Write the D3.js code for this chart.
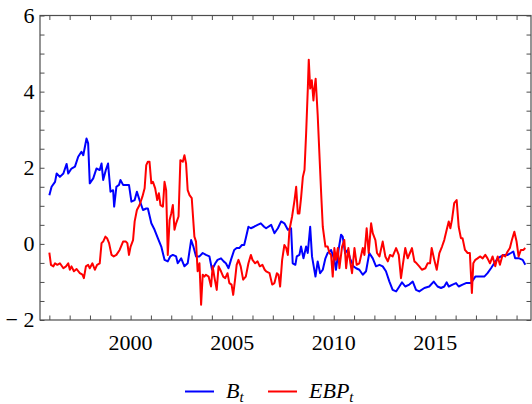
<!DOCTYPE html>
<html>
<head>
<meta charset="utf-8">
<script src="https://cdn.jsdelivr.net/npm/d3@7"></script>
<style>
  html, body { margin: 0; padding: 0; background: #fff; }
  svg { display: block; }
</style>
</head>
<body>
<svg id="chart" width="532" height="404"></svg>
<script>
// ---- Data ----
const bYears = [1996.00,1996.11,1996.28,1996.36,1996.52,1996.69,1996.85,1996.93,1997.09,1997.26,1997.42,1997.58,1997.67,1997.83,1997.91,1997.99,1998.16,1998.32,1998.48,1998.57,1998.65,1998.78,1998.89,1999.01,1999.14,1999.19,1999.30,1999.43,1999.50,1999.63,1999.79,1999.92,2000.04,2000.20,2000.31,2000.44,2000.61,2000.77,2000.85,2001.02,2001.18,2001.34,2001.51,2001.67,2001.83,2001.95,2002.08,2002.24,2002.32,2002.49,2002.65,2002.81,2002.98,2003.09,2003.22,2003.39,2003.55,2003.71,2003.88,2004.01,2004.17,2004.28,2004.45,2004.58,2004.69,2004.82,2004.94,2005.10,2005.22,2005.35,2005.48,2005.59,2005.67,2005.80,2005.92,2006.08,2006.25,2006.41,2006.57,2006.67,2006.92,2007.08,2007.25,2007.41,2007.57,2007.74,2007.90,2007.98,2008.11,2008.18,2008.31,2008.39,2008.51,2008.64,2008.72,2008.84,2008.93,2009.10,2009.21,2009.33,2009.46,2009.59,2009.70,2009.87,2010.03,2010.11,2010.25,2010.36,2010.44,2010.56,2010.69,2010.80,2010.97,2011.10,2011.26,2011.43,2011.59,2011.75,2011.92,2012.08,2012.25,2012.41,2012.57,2012.74,2012.90,2013.07,2013.23,2013.36,2013.52,2013.72,2013.89,2014.05,2014.21,2014.46,2014.70,2014.92,2015.11,2015.28,2015.44,2015.56,2015.66,2015.85,2016.02,2016.15,2016.34,2016.51,2016.75,2016.97,2017.16,2017.41,2017.57,2017.74,2017.90,2018.07,2018.23,2018.39,2018.56,2018.72,2018.84,2018.93,2019.13,2019.30,2019.43];
const bValues = [1.28,1.50,1.63,1.85,1.76,1.85,2.10,1.85,1.98,2.03,2.29,2.42,2.33,2.77,2.64,1.59,1.72,1.98,1.94,2.11,1.68,1.94,2.11,1.37,1.41,0.98,1.50,1.55,1.68,1.55,1.55,1.55,1.11,1.15,1.37,1.15,0.89,0.93,0.93,0.54,0.37,0.15,-0.07,-0.42,-0.46,-0.33,-0.29,-0.33,-0.51,-0.38,-0.59,-0.51,0.10,-0.07,-0.33,-0.33,-0.24,-0.29,-0.33,-0.68,-0.51,-0.42,-0.38,-0.46,-0.51,-0.64,-0.42,-0.16,-0.11,-0.11,-0.03,-0.03,0.15,0.45,0.41,0.45,0.50,0.54,0.45,0.41,0.50,0.28,0.41,0.59,0.54,0.37,0.41,-0.51,-0.55,-0.33,-0.29,-0.07,-0.38,-0.07,-0.24,0.45,-0.33,-0.86,-0.46,-0.77,-0.68,-0.38,-0.24,-0.16,-0.42,-0.68,-0.11,0.24,0.19,-0.24,-0.16,-0.38,-0.59,-0.64,-0.68,-0.81,-0.72,-0.24,-0.38,-0.59,-0.55,-0.59,-0.72,-0.99,-1.21,-1.25,-1.12,-1.01,-1.12,-1.07,-0.99,-1.21,-1.25,-1.16,-1.12,-0.99,-1.12,-1.16,-1.12,-1.01,-1.12,-1.07,-1.03,-1.12,-1.07,-1.03,-1.03,-0.86,-0.86,-0.86,-0.77,-0.64,-0.51,-0.38,-0.33,-0.29,-0.29,-0.24,-0.20,-0.38,-0.38,-0.42,-0.55];

const ebpYears = [1996.00,1996.08,1996.20,1996.28,1996.39,1996.52,1996.69,1996.82,1996.93,1997.01,1997.09,1997.21,1997.34,1997.50,1997.63,1997.70,1997.80,1997.91,1997.99,1998.12,1998.24,1998.35,1998.48,1998.57,1998.65,1998.76,1998.84,1998.94,1999.06,1999.17,1999.30,1999.46,1999.63,1999.76,1999.84,1999.92,2000.00,2000.12,2000.20,2000.31,2000.44,2000.58,2000.69,2000.77,2000.85,2000.93,2001.02,2001.10,2001.21,2001.31,2001.39,2001.47,2001.59,2001.67,2001.75,2001.83,2001.92,2002.00,2002.08,2002.16,2002.24,2002.36,2002.45,2002.57,2002.65,2002.73,2002.81,2002.90,2003.01,2003.14,2003.22,2003.30,2003.39,2003.47,2003.55,2003.63,2003.71,2003.84,2003.96,2004.04,2004.12,2004.24,2004.33,2004.45,2004.56,2004.66,2004.77,2004.86,2004.97,2005.05,2005.15,2005.22,2005.31,2005.42,2005.54,2005.67,2005.80,2005.92,2006.00,2006.13,2006.25,2006.36,2006.49,2006.60,2006.67,2006.84,2006.97,2007.08,2007.20,2007.28,2007.36,2007.46,2007.57,2007.66,2007.74,2007.82,2007.95,2008.07,2008.15,2008.23,2008.31,2008.39,2008.48,2008.56,2008.64,2008.72,2008.77,2008.84,2008.92,2009.00,2009.05,2009.11,2009.21,2009.30,2009.38,2009.46,2009.59,2009.70,2009.79,2009.87,2009.95,2010.03,2010.11,2010.20,2010.28,2010.41,2010.52,2010.61,2010.72,2010.82,2010.90,2011.02,2011.13,2011.26,2011.43,2011.51,2011.62,2011.72,2011.84,2011.92,2012.05,2012.13,2012.25,2012.41,2012.54,2012.66,2012.77,2012.90,2013.07,2013.20,2013.31,2013.39,2013.52,2013.64,2013.75,2013.85,2013.97,2014.08,2014.21,2014.34,2014.51,2014.62,2014.74,2014.82,2014.95,2015.07,2015.20,2015.33,2015.44,2015.56,2015.66,2015.74,2015.82,2015.93,2016.05,2016.15,2016.26,2016.34,2016.46,2016.59,2016.70,2016.80,2016.87,2016.97,2017.08,2017.20,2017.33,2017.46,2017.57,2017.69,2017.82,2017.95,2018.07,2018.18,2018.31,2018.44,2018.56,2018.67,2018.77,2018.89,2019.00,2019.10,2019.21,2019.33,2019.43];
const ebpValues = [-0.23,-0.55,-0.59,-0.51,-0.55,-0.51,-0.64,-0.59,-0.51,-0.68,-0.59,-0.72,-0.66,-0.77,-0.81,-0.90,-0.59,-0.55,-0.64,-0.51,-0.68,-0.55,-0.51,0.02,0.06,0.19,0.15,0.02,-0.29,-0.33,-0.29,-0.16,0.06,0.06,0.02,-0.29,-0.07,0.10,0.59,0.89,1.02,1.24,1.46,2.07,2.16,2.16,1.59,1.63,1.46,1.15,1.33,1.02,0.98,1.63,1.41,-0.29,0.63,0.80,1.02,0.37,0.54,0.72,2.20,2.16,2.33,2.11,1.41,1.28,1.20,0.19,0.06,-0.72,-0.51,-1.60,-0.81,-0.86,-0.81,-0.86,-1.12,-0.59,-0.86,-1.21,-0.59,-0.72,-0.86,-0.90,-0.77,-1.03,-1.07,-1.34,-0.90,-0.55,-0.42,-0.59,-0.94,-0.86,-0.51,-0.29,-0.42,-0.51,-0.46,-0.59,-0.55,-0.68,-0.72,-0.77,-1.07,-1.03,-0.77,-0.81,-1.12,-0.42,-0.03,-0.11,-0.29,0.37,0.72,1.15,1.50,0.80,0.80,1.20,1.76,1.94,2.90,4.03,4.84,4.08,4.30,3.77,4.08,4.34,3.38,2.29,1.33,0.45,-0.07,-0.07,-0.24,-0.29,-0.86,-0.11,-0.42,-0.11,-0.64,-0.07,0.10,-0.64,-0.11,-0.51,-0.77,-0.11,-0.55,-0.51,-0.11,-0.29,0.41,-0.24,0.54,0.28,0.10,-0.24,-0.33,0.06,-0.33,-0.46,-0.29,-0.33,-0.11,-0.29,-0.90,-0.59,-0.11,-0.38,-0.24,-0.11,-0.46,-0.51,-0.59,-0.68,-0.64,-0.51,-0.51,-0.11,-0.42,-0.68,-0.24,-0.07,0.10,0.37,0.59,0.41,0.63,1.07,1.15,0.45,0.15,0.15,-0.16,-0.24,-0.24,-1.29,-0.51,-0.42,-0.38,-0.33,-0.38,-0.29,-0.38,-0.51,-0.33,-0.59,-0.33,-0.55,-0.29,-0.33,-0.20,-0.11,0.10,0.32,0.06,-0.33,-0.16,-0.16,-0.11];

const xTickLabels = [2000, 2005, 2010, 2015];
const yTickLabels = [-2, 0, 2, 4, 6];
const seriesNames = ["B", "EBP"];
const seriesColors = ["#0000ff", "#ff0000"];

// ---- Layout ----
const svg = d3.select("#chart");
const mLeft = 40, mRight = 531, mTop = 15.5, mBottom = 320;
const x = d3.scaleLinear().domain([1995.54, 2019.71]).range([mLeft, mRight]);
const y = d3.scaleLinear().domain([-2, 6]).range([mBottom, mTop]);

const frameColor = "#4d4d4d";
const font = "'Liberation Serif', 'Times New Roman', serif";
const tickLen = 4.5;

const yearTicks = d3.range(1996, 2020);
const yMinor = d3.range(-2, 6.01, 0.5);

// Series lines
const line = d3.line().x(d => x(d[0])).y(d => y(d[1]));
const bData = bYears.map((t, i) => [t, bValues[i]]);
const eData = ebpYears.map((t, i) => [t, ebpValues[i]]);

const plot = svg.append("g");
plot.append("path").datum(bData).attr("d", line)
  .attr("fill", "none").attr("stroke", seriesColors[0]).attr("stroke-width", 2).attr("stroke-linejoin", "round");
plot.append("path").datum(eData).attr("d", line)
  .attr("fill", "none").attr("stroke", seriesColors[1]).attr("stroke-width", 2).attr("stroke-linejoin", "round");

// Frame with ticks via d3 axes
const axB = d3.axisBottom(x).tickValues(yearTicks).tickSize(-tickLen).tickFormat("");
const axT = d3.axisTop(x).tickValues(yearTicks).tickSize(-tickLen).tickFormat("");
const axL = d3.axisLeft(y).tickValues(yMinor).tickSize(-tickLen).tickFormat("");
const axR = d3.axisRight(y).tickValues(yMinor).tickSize(-tickLen).tickFormat("");

function styleAxis(g) {
  g.select(".domain").remove();
  g.selectAll(".tick line").attr("stroke", frameColor).attr("stroke-width", 1);
}
svg.append("g").attr("transform", `translate(0,${mBottom})`).call(axB).call(styleAxis);
svg.append("g").attr("transform", `translate(0,${mTop})`).call(axT).call(styleAxis);
svg.append("g").attr("transform", `translate(${mLeft},0)`).call(axL).call(styleAxis);
svg.append("g").attr("transform", `translate(${mRight},0)`).call(axR).call(styleAxis);

svg.append("rect").attr("x", mLeft).attr("y", mTop)
  .attr("width", mRight - mLeft).attr("height", mBottom - mTop)
  .attr("fill", "none").attr("stroke", frameColor).attr("stroke-width", 1.2);

// Tick labels
svg.append("g").selectAll("text").data(xTickLabels).join("text")
  .attr("x", d => x(d)).attr("y", 350)
  .attr("text-anchor", "middle")
  .attr("font-family", font).attr("font-size", 22).attr("fill", "#000")
  .text(d => d);

svg.append("g").selectAll("text").data(yTickLabels).join("text")
  .attr("x", 34.5).attr("y", d => y(d)).attr("dy", "0.34em")
  .attr("text-anchor", "end")
  .attr("font-family", font).attr("font-size", 22).attr("fill", "#000")
  .text(d => d < 0 ? "\u2212 " + Math.abs(d) : String(d));

// Legend
const legend = svg.append("g");
const legendItems = [
  {name: seriesNames[0], color: seriesColors[0], x0: 185},
  {name: seriesNames[1], color: seriesColors[1], x0: 268}
];
legendItems.forEach(it => {
  legend.append("line").attr("x1", it.x0).attr("x2", it.x0 + 29)
    .attr("y1", 391.5).attr("y2", 391.5)
    .attr("stroke", it.color).attr("stroke-width", 2);
  const t = legend.append("text").attr("x", it.x0 + 41).attr("y", 398)
    .attr("font-family", font).attr("font-size", 22).attr("font-style", "italic").attr("fill", "#000");
  t.append("tspan").text(it.name);
  t.append("tspan").attr("font-size", 15).attr("dy", 4).text("t");
});
</script>
</body>
</html>
